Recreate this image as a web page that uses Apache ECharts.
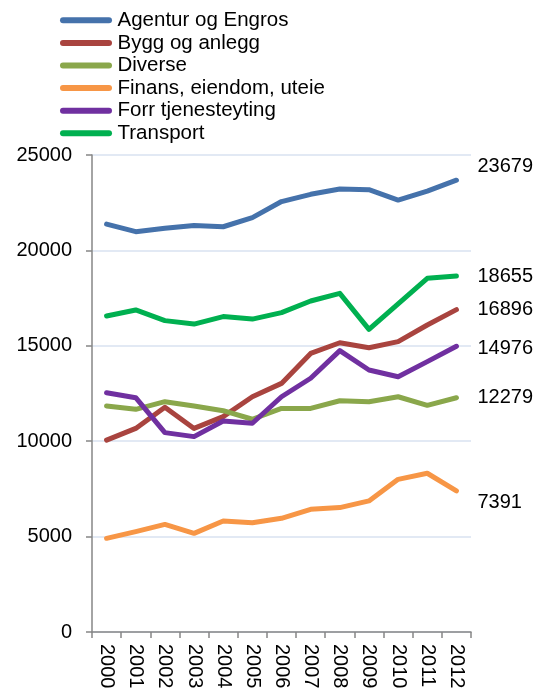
<!DOCTYPE html>
<html>
<head>
<meta charset="utf-8">
<script src="https://cdn.jsdelivr.net/npm/echarts@6/dist/echarts.min.js"></script>
<style>
  html, body { margin: 0; padding: 0; background: #fff; }
  #chart { width: 540px; height: 693px; }
</style>
</head>
<body>
<div id="chart"></div>
<script>
// categories
const years = ["2000", "2001", "2002", "2003", "2004", "2005", "2006", "2007", "2008", "2009", "2010", "2011", "2012"];

// series values
const agentur = [21380, 20980, 21160, 21310, 21240, 21720, 22560, 22940, 23220, 23180, 22640, 23110, 23679];
const bygg = [10060, 10670, 11780, 10670, 11290, 12330, 13030, 14600, 15160, 14900, 15220, 16090, 16896];
const diverse = [11850, 11670, 12070, 11850, 11600, 11150, 11720, 11720, 12120, 12070, 12330, 11880, 12279];
const finans = [4910, 5260, 5640, 5170, 5820, 5730, 5960, 6430, 6520, 6870, 8000, 8320, 7391];
const forr = [12540, 12280, 10450, 10240, 11060, 10940, 12330, 13300, 14750, 13730, 13380, 14170, 14976];
const transport = [16560, 16880, 16320, 16140, 16530, 16400, 16740, 17350, 17750, 15860, 17200, 18540, 18655];

// y-axis ticks
const yTicks = [0, 5000, 10000, 15000, 20000, 25000];

const font = "'Liberation Sans', Arial, sans-serif";
const capsule = "path://M3,0 H49 A3,3 0 0 1 49,6 H3 A3,3 0 0 1 3,0 Z";

function makeSeries(name, data, color, labelDy) {
  return {
    name: name,
    type: "line",
    data: data,
    symbol: "none",
    lineStyle: { width: 5, color: color, cap: "round", join: "round" },
    itemStyle: { color: color },
    endLabel: {
      show: true,
      formatter: "{c}",
      color: "#000",
      fontSize: 20,
      fontFamily: font,
      distance: 5,
      offset: [16, labelDy],
    },
  };
}

const chart = echarts.init(document.getElementById("chart"));
chart.setOption({
  animation: false,
  backgroundColor: "#ffffff",
  legend: {
    orient: "vertical",
    left: 60,
    top: 9,
    padding: 0,
    itemWidth: 53,
    itemHeight: 6,
    itemGap: 0,
    icon: capsule,
    textStyle: {
      fontSize: 20.5,
      fontFamily: font,
      color: "#000",
      lineHeight: 22.6,
    },
    data: ["Agentur og Engros", "Bygg og anlegg", "Diverse", "Finans, eiendom, uteie", "Forr tjenesteyting", "Transport"],
  },
  grid: {
    left: 92,
    right: 69,
    top: 155,
    bottom: 61,
  },
  xAxis: {
    type: "category",
    data: years,
    boundaryGap: true,
    axisLine: { lineStyle: { color: "#868686", width: 1.5 } },
    axisTick: { show: true, length: 6, alignWithLabel: false, lineStyle: { color: "#868686", width: 1.5 } },
    axisLabel: {
      rotate: -90,
      interval: 0,
      margin: 12,
      fontSize: 20,
      fontFamily: font,
      color: "#000",
    },
  },
  yAxis: {
    type: "value",
    min: yTicks[0],
    max: yTicks[yTicks.length - 1],
    interval: 5000,
    axisLine: { show: true, lineStyle: { color: "#868686", width: 1.5 } },
    axisTick: { show: true, length: 6, lineStyle: { color: "#868686", width: 1.5 } },
    axisLabel: {
      margin: 20,
      fontSize: 20,
      fontFamily: font,
      color: "#000",
      formatter: (v) => String(v),
    },
    splitLine: { lineStyle: { color: "#d9e2f1", width: 1.5 } },
  },
  series: [
    makeSeries("Agentur og Engros", agentur, "#4572ab", -14),
    makeSeries("Bygg og anlegg", bygg, "#a9443f", 0),
    makeSeries("Diverse", diverse, "#8aa74b", 0),
    makeSeries("Finans, eiendom, uteie", finans, "#f79646", 12),
    makeSeries("Forr tjenesteyting", forr, "#7030a0", 2),
    makeSeries("Transport", transport, "#00b050", 0),
  ],
});
</script>
</body>
</html>
